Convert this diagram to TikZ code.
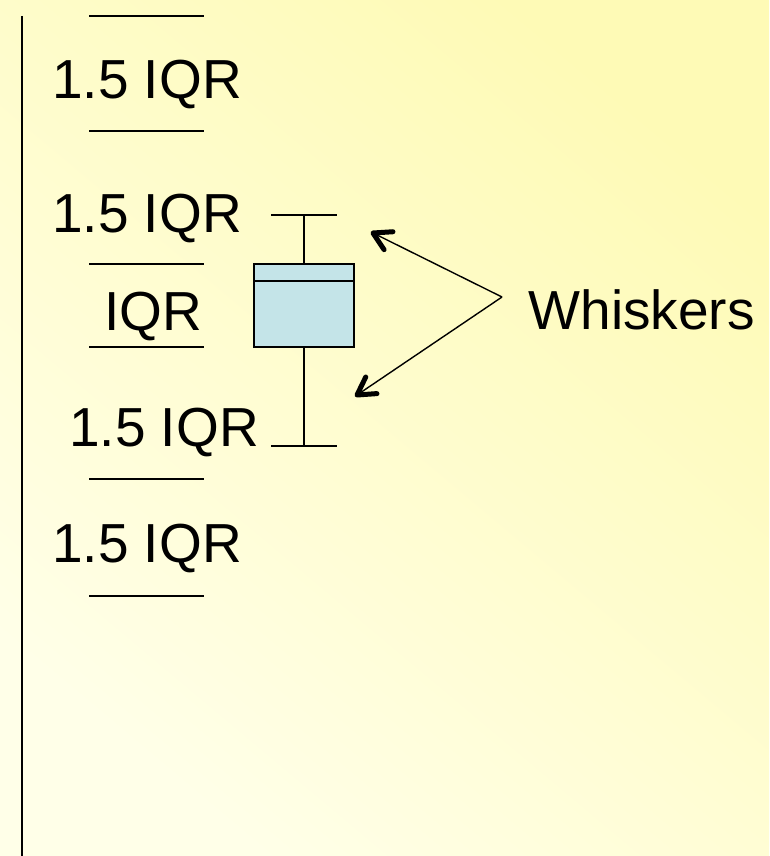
\documentclass[tikz,border=0pt]{standalone}
\usepackage{fontspec}
\setmainfont{Liberation Sans}
\usetikzlibrary{calc}
\definecolor{bgA}{HTML}{FEFAB6}
\definecolor{bgB}{HTML}{FFFFE8}
\definecolor{boxfill}{HTML}{C4E4E8}
\tikzset{
  lbl/.style={inner sep=0pt, anchor=base east, font=\fontsize{55}{60}\selectfont},
  rule/.style={line width=2pt, black},
  boxline/.style={line width=2pt, black},
  ptr/.style={line width=1.4pt, black},
  barb/.style={line width=5pt, black, line cap=round, line join=round}
}
\begin{document}
\begin{tikzpicture}[x=1pt,y=-1pt]
\useasboundingbox (0,0) rectangle (769,856);
\shade[top color=bgA, bottom color=bgB, shading angle=-40] (0,0) rectangle (769,856);
% axis
\draw[rule] (22,16) -- (22,856);
% horizontal rules
\foreach \yy in {16,131,264,347,479,596} \draw[rule] (89,\yy) -- (204,\yy);
% labels
\node[lbl] (t1) at (242,99) {1.5 IQR};
\node[lbl] (t2) at (242,232) {1.5 IQR};
\node[lbl] (t3) at (202,330) {IQR};
\node[lbl] (t4) at (259,446) {1.5 IQR};
\node[lbl] (t5) at (242,562) {1.5 IQR};
\node[lbl] (wh) at (755,329) {Whiskers};
% box plot
\draw[boxline, fill=boxfill] (254,264) rectangle (354,347);
\draw[boxline] (254,281) -- (354,281);
\draw[boxline] (304,215) -- (304,264);
\draw[boxline] (271,215) -- (337,215);
\draw[boxline] (304,347) -- (304,446);
\draw[boxline] (271,446) -- (337,446);
% arrows
\coordinate (apex) at (502,297);
\coordinate (upTip) at (373,233);
\coordinate (loTip) at (357,395);
\draw[ptr] (apex) -- (upTip);
\draw[ptr] (apex) -- (loTip);
\draw[barb] ($(upTip)!20pt!-30:(apex)$) -- (upTip) -- ($(upTip)!20pt!30:(apex)$);
\draw[barb] ($(loTip)!20pt!-30:(apex)$) -- (loTip) -- ($(loTip)!20pt!30:(apex)$);
\end{tikzpicture}
\end{document}
